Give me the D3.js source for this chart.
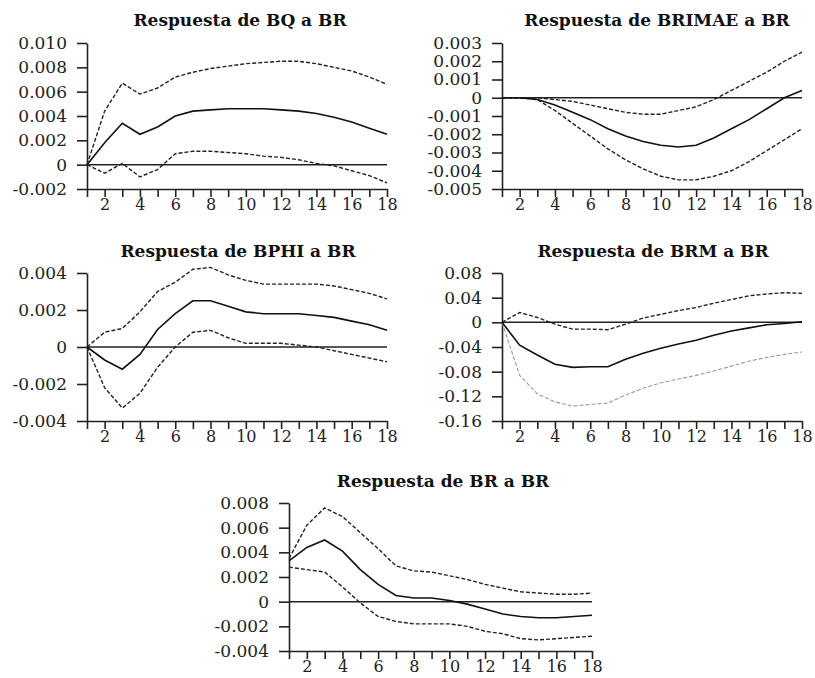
<!DOCTYPE html>
<head>
  <meta charset="utf-8">
  <script src="https://d3js.org/d3.v7.min.js"></script>
  <style>
    body { margin:0; background:white; }
    .tick text { font-family: 'DejaVu Serif', serif; font-size: 17px; fill: #222; }
    .xaxis .tick text { font-size: 16px; }
    .title { font-family: 'DejaVu Serif', serif; font-weight: bold; font-size: 17px; fill: #111; }
  </style>
</head>
<body>
<script>
  // horizon (periods after the shock)
  const periods = [1,2,3,4,5,6,7,8,9,10,11,12,13,14,15,16,17,18];

  // Respuesta de BQ a BR
  const bqMid = [0, 0.0018, 0.0034, 0.0025, 0.0031, 0.0040, 0.0044, 0.0045, 0.0046, 0.0046, 0.0046, 0.0045, 0.0044, 0.0042, 0.0039, 0.0035, 0.0030, 0.0025];
  const bqUp  = [0, 0.0044, 0.0067, 0.0058, 0.0063, 0.0072, 0.0076, 0.0079, 0.0081, 0.0083, 0.0084, 0.0085, 0.0085, 0.0083, 0.0080, 0.0077, 0.0072, 0.0066];
  const bqLow = [0, -0.0007, 0.0001, -0.0010, -0.0004, 0.0009, 0.0011, 0.0011, 0.0010, 0.0009, 0.0007, 0.0006, 0.0004, 0.0001, -0.0001, -0.0005, -0.0009, -0.0015];
  const bqTicks = [-0.002, 0, 0.002, 0.004, 0.006, 0.008, 0.010];

  // Respuesta de BRIMAE a BR
  const brimaeMid = [0, 0, -0.0001, -0.0004, -0.0008, -0.0012, -0.0017, -0.0021, -0.0024, -0.0026, -0.0027, -0.0026, -0.0022, -0.0017, -0.0012, -0.0006, 0.0000, 0.0004];
  const brimaeUp  = [0, 0, 0, -0.0001, -0.0002, -0.0004, -0.0006, -0.0008, -0.0009, -0.0009, -0.0007, -0.0005, -0.0001, 0.0004, 0.0009, 0.0014, 0.0020, 0.0025];
  const brimaeLow = [0, 0, -0.0001, -0.0007, -0.0014, -0.0021, -0.0028, -0.0034, -0.0039, -0.0043, -0.0045, -0.0045, -0.0043, -0.0040, -0.0035, -0.0029, -0.0023, -0.0017];
  const brimaeTicks = [-0.005, -0.004, -0.003, -0.002, -0.001, 0, 0.001, 0.002, 0.003];

  // Respuesta de BPHI a BR
  const bphiMid = [0, -0.0007, -0.0012, -0.0004, 0.00095, 0.0018, 0.0025, 0.0025, 0.0022, 0.0019, 0.0018, 0.0018, 0.0018, 0.0017, 0.0016, 0.0014, 0.0012, 0.0009];
  const bphiUp  = [0, 0.0008, 0.0010, 0.0019, 0.0030, 0.0035, 0.0042, 0.0043, 0.0039, 0.0036, 0.0034, 0.0034, 0.0034, 0.0034, 0.0033, 0.0031, 0.0029, 0.0026];
  const bphiLow = [0, -0.0022, -0.0033, -0.0025, -0.0011, 0.0000, 0.0008, 0.0009, 0.0005, 0.0002, 0.0002, 0.0002, 0.0001, 0.0000, -0.0002, -0.0004, -0.0006, -0.0008];
  const bphiTicks = [-0.004, -0.002, 0, 0.002, 0.004];

  // Respuesta de BRM a BR
  const brmMid = [0, -0.037, -0.053, -0.068, -0.073, -0.072, -0.072, -0.060, -0.050, -0.042, -0.035, -0.029, -0.021, -0.014, -0.009, -0.004, -0.002, 0.001];
  const brmUp  = [0, 0.016, 0.008, -0.003, -0.011, -0.011, -0.012, -0.003, 0.007, 0.013, 0.019, 0.024, 0.031, 0.037, 0.043, 0.046, 0.048, 0.047];
  const brmLow = [0, -0.086, -0.116, -0.129, -0.136, -0.133, -0.131, -0.118, -0.107, -0.098, -0.092, -0.086, -0.079, -0.071, -0.063, -0.057, -0.052, -0.048];
  const brmTicks = [-0.16, -0.12, -0.08, -0.04, 0, 0.04, 0.08];

  // Respuesta de BR a BR
  const brMid = [0.0033, 0.0044, 0.0050, 0.0041, 0.0026, 0.0014, 0.0005, 0.0003, 0.0003, 0.0001, -0.0002, -0.0006, -0.0010, -0.0012, -0.0013, -0.0013, -0.0012, -0.0011];
  const brUp  = [0.0035, 0.0062, 0.0076, 0.0069, 0.0056, 0.0043, 0.0029, 0.0025, 0.0024, 0.0021, 0.0018, 0.0014, 0.0011, 0.0008, 0.0007, 0.0006, 0.0006, 0.0007];
  const brLow = [0.0028, 0.0026, 0.0024, 0.0012, -0.0001, -0.0012, -0.0016, -0.0018, -0.0018, -0.0018, -0.0020, -0.0024, -0.0026, -0.0030, -0.0031, -0.0030, -0.0029, -0.0028];
  const brTicks = [-0.004, -0.002, 0, 0.002, 0.004, 0.006, 0.008];

  const svg = d3.select('body').append('svg')
    .attr('width', 815)
    .attr('height', 678);

  // panel frames (left, right, top, bottom of the plotting area) and title anchor
  const panels = [
    {title: 'Respuesta de BQ a BR', mid: bqMid, up: bqUp, low: bqLow, ticks: bqTicks, dec: 3,
     x0: 87, x1: 387, y0: 43, y1: 189, tx: 240, ty: 26},
    {title: 'Respuesta de BRIMAE a BR', mid: brimaeMid, up: brimaeUp, low: brimaeLow, ticks: brimaeTicks, dec: 3,
     x0: 502, x1: 802, y0: 43, y1: 189, tx: 657, ty: 26},
    {title: 'Respuesta de BPHI a BR', mid: bphiMid, up: bphiUp, low: bphiLow, ticks: bphiTicks, dec: 3,
     x0: 87, x1: 387, y0: 273, y1: 421, tx: 238, ty: 257},
    {title: 'Respuesta de BRM a BR', mid: brmMid, up: brmUp, low: brmLow, ticks: brmTicks, dec: 2,
     x0: 502, x1: 802, y0: 273, y1: 421, tx: 653, ty: 257, lowColor: '#999'},
    {title: 'Respuesta de BR a BR', mid: brMid, up: brUp, low: brLow, ticks: brTicks, dec: 3,
     x0: 289, x1: 592, y0: 503, y1: 651, tx: 443, ty: 487}
  ];

  panels.forEach(p => {
    const g = svg.append('g');

    const x = d3.scaleLinear().domain([1, 18]).range([p.x0, p.x1]);
    const y = d3.scaleLinear().domain(d3.extent(p.ticks)).range([p.y1, p.y0]);

    g.append('text')
      .attr('class', 'title')
      .attr('x', p.tx)
      .attr('y', p.ty)
      .attr('text-anchor', 'middle')
      .text(p.title);

    const fmt = v => v === 0 ? '0' : v.toFixed(p.dec);

    const yAxis = g.append('g')
      .attr('transform', `translate(${p.x0},0)`)
      .call(d3.axisLeft(y).tickValues(p.ticks).tickFormat(fmt).tickSize(10).tickSizeOuter(0).tickPadding(10));

    const xAxis = g.append('g')
      .attr('class', 'xaxis')
      .attr('transform', `translate(0,${p.y1})`)
      .call(d3.axisBottom(x).tickValues(periods).tickFormat(d => d % 2 === 0 ? d : '').tickSize(8).tickSizeOuter(0).tickPadding(2));

    [yAxis, xAxis].forEach(a => {
      a.select('.domain').attr('stroke', '#222').attr('stroke-width', 1.6);
      a.selectAll('.tick line').attr('stroke', '#222').attr('stroke-width', 1.6);
      a.selectAll('.tick text').attr('font-family', null).attr('font-size', null);
    });

    // zero line
    g.append('line')
      .attr('x1', x(1)).attr('x2', x(18))
      .attr('y1', y(0)).attr('y2', y(0))
      .attr('stroke', '#222')
      .attr('stroke-width', 1.5);

    const line = d3.line()
      .x((d, i) => x(periods[i]))
      .y(d => y(d));

    g.append('path')
      .datum(p.up)
      .attr('d', line)
      .attr('fill', 'none')
      .attr('stroke', '#222')
      .attr('stroke-width', 1.4)
      .attr('stroke-dasharray', '4,2');

    g.append('path')
      .datum(p.low)
      .attr('d', line)
      .attr('fill', 'none')
      .attr('stroke', p.lowColor || '#222')
      .attr('stroke-width', p.lowColor ? 1.1 : 1.4)
      .attr('stroke-dasharray', '4,2');

    g.append('path')
      .datum(p.mid)
      .attr('d', line)
      .attr('fill', 'none')
      .attr('stroke', '#111')
      .attr('stroke-width', 1.6);
  });
</script>
</body>
